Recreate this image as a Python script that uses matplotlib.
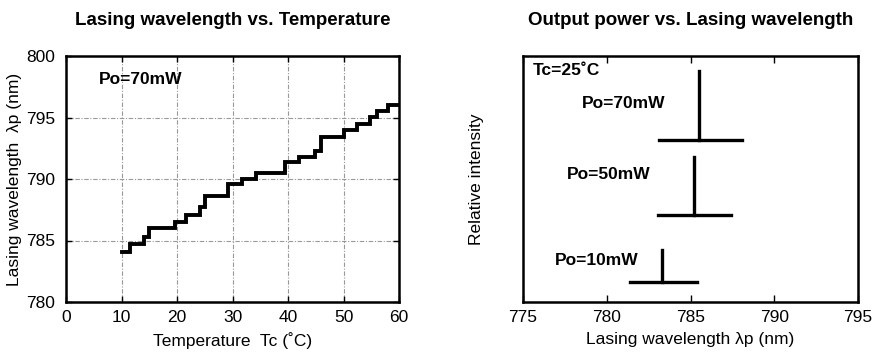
import matplotlib
matplotlib.use("Agg")
import matplotlib.pyplot as plt

# ---- data: left panel (lasing wavelength vs temperature, step curve) ----
temp_edges = [10.0, 11.6, 14.0, 15.0, 19.7, 21.6, 24.1, 25.1, 29.2, 31.7, 34.3,
              39.4, 41.9, 44.8, 46.0, 50.0, 52.4, 54.8, 56.1, 58.1, 60.0]
wavelength_levels = [784.05, 784.7, 785.3, 786.0, 786.5, 787.1, 787.7, 788.6, 789.6,
                     790.0, 790.5, 791.4, 791.8, 792.3, 793.4, 794.0, 794.5, 795.05,
                     795.5, 796.05, 796.05]

# ---- data: right panel (spectra) ----
powers = ["Po=70mW", "Po=50mW", "Po=10mW"]
peak_wl = [785.5, 785.2, 783.3]
peak_base = [0.657, 0.352, 0.083]
peak_top = [0.94, 0.59, 0.212]
base_left = [783.1, 783.05, 781.4]
base_right = [788.1, 787.4, 785.4]

left_xticks = [0, 10, 20, 30, 40, 50, 60]
left_yticks = [780, 785, 790, 795, 800]
right_xticks = [775, 780, 785, 790, 795]

font = "Liberation Sans"

fig = plt.figure(figsize=(8.84, 3.63), dpi=100)
axL = fig.add_axes([66/884, 1-302/363, (399-66)/884, (302-56)/363])
axR = fig.add_axes([523/884, 1-302/363, (858-523)/884, (302-56)/363])

# Left panel
axL.step(temp_edges, wavelength_levels, where="post", color="black", lw=2.8,
         solid_joinstyle="miter")
axL.set_xlim(0, 60)
axL.set_ylim(780, 800)
axL.set_xticks(left_xticks)
axL.set_yticks(left_yticks)
axL.grid(True, linestyle=(0, (4, 1.5, 1, 1.5)), color="#999999", lw=0.8)
axL.tick_params(direction="in", top=True, right=True, length=4, width=1,
                labelsize=12.5)
axL.tick_params(axis="x", pad=6)
axL.tick_params(axis="y", pad=8)
for lab in axL.get_xticklabels() + axL.get_yticklabels():
    lab.set_fontfamily(font)
axL.set_xlabel("Temperature  Tc (˚C)", fontfamily=font, fontsize=12.5, labelpad=5)
axL.set_ylabel("Lasing wavelength  λp (nm)", fontfamily=font, fontsize=12.5, labelpad=3)
axL.set_title("Lasing wavelength vs. Temperature", fontfamily=font,
              fontweight="bold", fontsize=13.5, pad=22)
axL.text(0.1, 0.905, "Po=70mW", transform=axL.transAxes, fontfamily=font,
         fontweight="bold", fontsize=12.5, va="center", ha="left")

# Right panel
for i in range(len(powers)):
    axR.plot([peak_wl[i], peak_wl[i]], [peak_base[i], peak_top[i]], color="black", lw=2.4)
    axR.plot([base_left[i], base_right[i]], [peak_base[i], peak_base[i]], color="black", lw=2.4)
axR.set_xlim(775, 795)
axR.set_ylim(0, 1)
axR.set_xticks(right_xticks)
axR.set_yticks([])
axR.tick_params(direction="in", top=True, length=5, width=1, labelsize=12.5, pad=6)
for lab in axR.get_xticklabels():
    lab.set_fontfamily(font)
axR.set_xlabel("Lasing wavelength λp (nm)", fontfamily=font, fontsize=12.5, labelpad=5)
axR.set_ylabel("Relative intensity", fontfamily=font, fontsize=12.5, labelpad=28)
axR.set_title("Output power vs. Lasing wavelength", fontfamily=font,
              fontweight="bold", fontsize=13.5, pad=22)
axR.text(775.6, 0.94, "Tc=25˚C", fontfamily=font, fontweight="bold",
         fontsize=12.5, va="center", ha="left")
label_x = [778.5, 777.6, 776.9]
label_y = [0.805, 0.52, 0.17]
for i in range(len(powers)):
    axR.text(label_x[i], label_y[i], powers[i], fontfamily=font, fontweight="bold",
             fontsize=12.5, va="center", ha="left")

for ax in (axL, axR):
    for s in ax.spines.values():
        s.set_linewidth(1.8)

fig.savefig("out.png", dpi=100)
